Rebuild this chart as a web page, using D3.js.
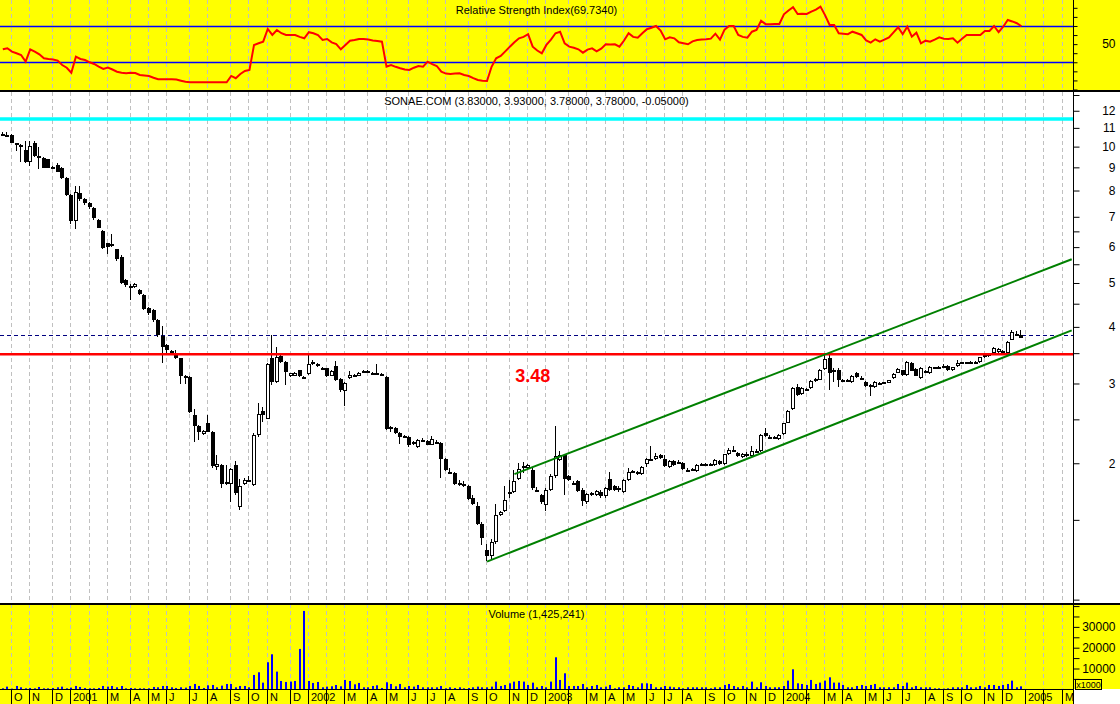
<!DOCTYPE html>
<html lang="en">
<head>
  <meta charset="UTF-8">
  <title>SONAE.COM weekly</title>
  <script src="https://d3js.org/d3.v7.min.js"></script>
  <style>
    body { margin: 0; background: #fff; }
    svg { display: block; font-family: "Liberation Sans", Arial, sans-serif; }
  </style>
</head>
<body>
<svg id="chart" width="1120" height="704"></svg>
<script>
// weekly bars, one per Friday
var firstWeek = "2000-09-22";
var lastAxisWeek = "2005-03-18";
// Fridays the market was shut: the bar belongs to the Thursday
var holidays = ["2000-12-01", "2002-11-01"];
var monthLetters = ["J", "F", "M", "A", "M", "J", "J", "A", "S", "O", "N", "D"];

// [open, high, low, close]
var candles = [
  [10.65,10.75,10.55,10.60],[10.60,10.75,10.50,10.62],[10.60,10.65,10.18,10.20],[10.17,10.20,9.80,10.09],[10.10,10.15,9.26,10.04],
  [9.83,10.31,9.20,9.24],[9.24,10.30,9.08,10.04],[10.17,10.30,9.50,9.55],[9.55,10.00,8.92,9.50],[9.45,9.50,8.95,8.99],
  [9.37,9.40,8.95,8.99],[9.00,9.05,8.97,9.00],[9.11,9.22,8.78,8.81],[8.99,9.00,8.50,8.54],[8.54,8.56,7.80,7.82],
  [7.82,7.85,6.74,6.86],[6.86,8.19,6.57,7.93],[7.89,8.19,7.60,7.65],[7.68,7.70,7.45,7.50],[7.50,7.55,7.30,7.35],
  [7.31,7.35,6.90,6.95],[6.89,6.92,6.60,6.62],[6.51,6.55,5.93,5.96],[6.12,6.13,5.79,6.01],[6.06,6.43,6.00,6.10],
  [5.93,5.95,5.60,5.64],[5.72,5.75,4.98,5.01],[5.08,5.10,4.90,4.94],[4.93,4.97,4.59,4.92],[4.90,5.00,4.88,4.97],
  [4.83,4.85,4.70,4.72],[4.70,4.72,4.35,4.37],[4.40,4.42,4.25,4.29],[4.35,4.37,4.10,4.14],[4.14,4.16,3.80,3.83],
  [3.81,4.02,3.33,3.62],[3.64,3.66,3.50,3.56],[3.53,3.55,3.48,3.50],[3.50,3.56,3.40,3.41],[3.41,3.42,2.99,3.11],
  [3.12,3.13,2.99,3.11],[3.10,3.11,2.58,2.60],[2.56,2.64,2.23,2.42],[2.42,2.43,2.25,2.35],[2.32,2.37,2.31,2.36],
  [2.45,2.56,2.34,2.35],[2.35,2.36,1.95,1.97],[1.96,2.09,1.93,1.99],[1.98,1.99,1.76,1.80],[1.81,1.98,1.79,1.82],
  [1.80,1.95,1.64,1.94],[1.98,2.02,1.70,1.72],[1.60,1.85,1.58,1.78],[1.80,1.86,1.79,1.84],[1.84,1.87,1.83,1.84],
  [1.79,2.33,1.78,2.31],[2.31,2.71,2.29,2.57],[2.61,2.66,2.47,2.55],[2.51,3.33,2.50,3.31],[3.42,3.84,2.98,3.02],
  [3.02,3.61,3.00,3.43],[3.45,3.50,3.33,3.34],[3.35,3.36,2.97,3.18],[3.11,3.17,3.10,3.16],[3.12,3.18,3.11,3.16],
  [3.21,3.22,3.10,3.11],[3.10,3.12,3.08,3.09],[3.15,3.48,3.14,3.31],[3.35,3.38,3.30,3.32],[3.31,3.33,3.27,3.28],
  [3.25,3.27,3.23,3.24],[3.24,3.25,3.10,3.12],[3.12,3.21,3.11,3.20],[3.28,3.36,3.04,3.05],[3.07,3.08,2.88,2.90],
  [2.89,3.02,2.67,3.01],[3.08,3.20,3.07,3.13],[3.12,3.15,3.11,3.13],[3.12,3.18,3.11,3.17],[3.19,3.22,3.17,3.20],
  [3.19,3.21,3.17,3.19],[3.17,3.18,3.15,3.16],[3.16,3.32,3.13,3.14],[3.15,3.16,3.11,3.12],[3.10,3.11,2.37,2.38],
  [2.41,2.42,2.35,2.39],[2.39,2.40,2.32,2.33],[2.33,2.34,2.21,2.29],[2.30,2.31,2.27,2.28],[2.29,2.30,2.17,2.19],
  [2.23,2.24,2.20,2.21],[2.17,2.26,2.16,2.25],[2.24,2.27,2.23,2.25],[2.24,2.25,2.19,2.20],[2.20,2.30,2.19,2.26],
  [2.23,2.25,2.22,2.23],[2.22,2.23,1.86,2.04],[2.04,2.05,1.92,1.93],[1.91,1.95,1.89,1.90],[1.90,1.91,1.79,1.80],
  [1.81,1.84,1.78,1.80],[1.80,1.83,1.77,1.79],[1.78,1.79,1.66,1.67],[1.68,1.70,1.62,1.63],[1.61,1.64,1.46,1.47],
  [1.47,1.48,1.32,1.37],[1.29,1.33,1.22,1.25],[1.25,1.36,1.23,1.34],[1.34,1.63,1.33,1.54],[1.54,1.57,1.53,1.56],
  [1.57,1.78,1.56,1.66],[1.73,1.84,1.68,1.73],[1.73,1.93,1.72,1.83],[1.85,2.00,1.84,1.94],[1.97,2.01,1.90,1.95],
  [1.95,1.99,1.94,1.98],[1.93,1.96,1.75,1.76],[1.75,1.77,1.73,1.74],[1.70,1.71,1.63,1.64],[1.62,1.76,1.57,1.75],
  [1.75,1.89,1.74,1.87],[1.87,2.42,1.86,2.08],[2.03,2.13,2.02,2.09],[2.09,2.10,1.70,1.85],[1.87,1.88,1.83,1.84],
  [1.81,1.83,1.79,1.80],[1.83,1.84,1.73,1.74],[1.75,1.76,1.61,1.65],[1.64,1.72,1.63,1.71],[1.70,1.73,1.69,1.72],
  [1.70,1.75,1.69,1.74],[1.73,1.75,1.68,1.69],[1.69,1.77,1.68,1.76],[1.85,1.91,1.74,1.75],[1.78,1.79,1.74,1.75],
  [1.75,1.78,1.73,1.76],[1.73,1.85,1.72,1.84],[1.84,1.95,1.83,1.91],[1.91,1.93,1.90,1.92],[1.91,1.92,1.88,1.89],
  [1.89,1.97,1.88,1.96],[1.99,2.05,1.96,2.04],[2.04,2.18,2.02,2.04],[2.04,2.11,2.03,2.08],[2.09,2.10,2.04,2.05],
  [2.04,2.09,1.96,1.97],[1.96,2.03,1.95,2.02],[2.02,2.03,1.97,1.98],[2.01,2.03,2.00,2.01],[2.00,2.01,1.93,1.94],
  [1.93,1.95,1.92,1.93],[1.93,1.95,1.92,1.94],[1.92,1.99,1.91,1.98],[1.99,2.00,1.98,1.99],[1.99,2.00,1.98,1.99],
  [1.99,2.00,1.98,1.99],[1.98,2.04,1.97,2.03],[2.02,2.03,1.98,1.99],[1.99,2.10,1.98,2.10],[2.10,2.16,2.09,2.14],
  [2.14,2.18,2.12,2.13],[2.11,2.12,2.06,2.07],[2.06,2.11,2.05,2.10],[2.10,2.12,2.06,2.07],[2.07,2.18,2.06,2.13],
  [2.13,2.15,2.12,2.13],[2.13,2.32,2.12,2.31],[2.33,2.39,2.29,2.30],[2.29,2.31,2.28,2.29],[2.28,2.30,2.27,2.29],
  [2.26,2.32,2.25,2.31],[2.32,2.46,2.31,2.45],[2.46,2.62,2.45,2.61],[2.63,2.94,2.62,2.93],[2.95,2.99,2.82,2.83],
  [2.84,2.94,2.83,2.93],[2.91,2.93,2.89,2.91],[2.93,3.05,2.92,3.04],[3.07,3.09,3.03,3.04],[3.06,3.23,3.05,3.22],
  [3.23,3.48,3.22,3.40],[3.41,3.47,2.90,3.16],[3.22,3.25,3.03,3.19],[3.22,3.24,2.94,3.06],[3.05,3.07,3.04,3.05],
  [3.05,3.07,3.04,3.06],[3.02,3.13,3.01,3.12],[3.16,3.18,3.09,3.10],[3.09,3.11,3.08,3.09],[3.03,3.04,2.95,2.96],
  [2.97,2.99,2.82,2.97],[2.94,3.04,2.93,3.03],[3.00,3.02,2.99,3.01],[3.01,3.03,3.00,3.02],[3.01,3.06,3.00,3.05],
  [3.08,3.16,3.07,3.15],[3.17,3.24,3.16,3.23],[3.21,3.22,3.12,3.13],[3.13,3.36,3.12,3.35],[3.33,3.34,3.19,3.20],
  [3.23,3.24,3.11,3.12],[3.08,3.26,3.07,3.25],[3.17,3.21,3.16,3.20],[3.16,3.28,3.15,3.27],[3.25,3.27,3.24,3.26],
  [3.24,3.28,3.23,3.27],[3.28,3.31,3.27,3.28],[3.28,3.29,3.20,3.21],[3.21,3.27,3.20,3.26],[3.28,3.38,3.27,3.33],
  [3.33,3.35,3.32,3.34],[3.34,3.35,3.33,3.34],[3.34,3.36,3.33,3.34],[3.33,3.36,3.32,3.35],[3.34,3.44,3.33,3.43],
  [3.43,3.48,3.42,3.47],[3.46,3.50,3.44,3.49],[3.50,3.61,3.49,3.59],[3.52,3.60,3.50,3.58],[3.52,3.56,3.49,3.54],
  [3.50,3.72,3.49,3.70],[3.75,3.93,3.74,3.89],[3.86,3.92,3.82,3.83],[3.83,3.93,3.78,3.78]
];

// weekly volume, thousands of shares
var volumes = [
  480,1280,320,1600,960,480,640,480,1120,480,
  480,640,960,1280,480,800,1600,1120,640,480,
  480,640,1600,1280,1600,960,1600,480,640,480,
  480,480,480,1120,960,1600,1600,960,640,960,
  800,1600,2560,1600,640,1920,2080,960,1760,2560,
  2560,960,1600,1600,960,6900,8180,3200,13000,16830,
  8500,4000,3530,3690,4000,19400,37670,4000,3050,3530,
  960,1280,1440,2080,1440,4490,4000,2400,3050,960,
  960,1600,1920,640,3370,2560,1440,2560,960,1600,
  1280,2080,960,960,960,960,1600,480,960,640,
  960,480,640,960,1280,960,960,1280,3690,1600,
  2080,2890,3690,4000,3690,2080,3200,960,1600,960,
  3690,15390,4490,7690,1600,1600,1600,2560,960,1600,
  2080,960,1280,2080,480,960,960,2080,1600,960,
  2890,2890,2560,960,960,1600,1280,960,960,480,
  960,960,960,960,960,480,960,960,2080,2560,
  1600,960,1600,960,3690,960,3370,1600,960,960,
  960,1600,4170,9620,2890,2560,2080,4490,2560,3210,
  4170,5770,3210,3210,2080,960,960,1600,2080,1600,
  2080,2560,960,960,960,960,2560,1600,3210,960,
  1600,960,960,960,480,480,320,480,960,960,
  960,2080,960,960,1600,960,2080,2080,1600,2080,
  2560,4170,960,1425.241
];

var rsiValues = [
  44.3,45.4,41.7,39.9,38.0,30.7,44.3,41.7,38.8,34.4,
  33.6,33.0,31.8,27.0,24.0,18.5,36.2,33.6,32.5,30.0,
  28.1,25.2,22.6,24.1,22.0,19.6,18.5,17.9,18.5,18.2,
  16.0,15.5,14.9,13.0,11.3,11.3,11.3,11.3,11.0,9.7,
  8.5,8.0,8.0,8.0,8.0,8.0,8.0,8.0,8.0,8.0,
  14.9,12.4,17.1,20.5,21.5,49.1,50.9,52.7,66.7,60.1,
  65.6,62.0,60.1,60.1,60.1,58.0,56.4,63.1,62.0,60.0,
  54.6,55.7,52.0,50.0,44.3,49.0,53.8,54.5,55.7,55.7,
  55.0,54.0,53.5,52.7,25.2,27.0,25.0,23.4,22.0,21.5,
  24.0,25.9,25.2,30.7,28.0,25.9,19.6,17.5,17.1,17.5,
  17.9,16.0,14.9,12.5,10.5,9.6,9.4,25.0,34.4,36.9,
  42.0,47.2,52.0,56.4,58.0,60.9,47.2,43.0,39.9,49.1,
  55.0,62.0,63.7,50.9,47.2,46.0,44.3,40.6,44.0,45.4,
  42.0,45.0,49.8,49.5,49.8,47.2,54.0,62.0,58.0,57.1,
  62.0,66.4,68.0,70.0,65.0,55.3,57.5,56.4,52.0,50.9,
  49.8,53.0,54.6,55.0,55.3,56.0,61.5,55.0,66.0,70.0,
  70.0,60.1,58.0,57.1,63.7,65.6,75.8,72.0,71.9,72.2,
  72.2,82.9,87.0,90.6,83.2,83.5,83.2,85.8,88.0,91.3,
  82.0,71.1,71.1,62.0,61.5,61.0,63.7,62.0,60.1,54.0,
  51.6,55.3,52.7,55.0,57.5,63.0,68.6,60.9,69.2,58.2,
  62.6,50.9,53.8,52.7,55.0,57.5,56.0,55.7,56.4,51.6,
  56.0,60.1,60.1,60.1,60.1,64.5,64.5,70.0,63.1,69.2,
  76.6,75.0,73.0,69.734
];

// drawn studies
var highLevel = 11.5;
var supportLevel = 3.48;
var lastPrice = 3.83;
var channelLower = [["2002-10-04", 1.213], ["2005-03-18", 3.93]];
var channelUpper = [["2002-11-15", 1.892], ["2005-03-18", 5.64]];
var supportLabelAt = ["2002-12-13", 3.03];
var rsiBands = [30, 70];

// axis ticks
var priceTicks = [1, 1.5, 2, 2.5, 3, 3.5, 4, 4.5, 5, 5.5, 6, 6.5, 7, 8, 9, 10, 11, 12, 13];
var priceLabels = [2, 3, 4, 5, 6, 7, 8, 9, 10, 11, 12];
var volumeTicks = [5000, 10000, 15000, 20000, 25000, 30000, 35000, 40000];
var volumeLabels = [10000, 20000, 30000];
var rsiTicks = [0, 10, 20, 30, 40, 50, 60, 70, 80, 90];
var rsiLabels = [50];

// ---- layout ----
var W = 1120, H = 704, axisX = 1073;
var rsiBottom = 91, mainTop = 92, mainBottom = 603, volTop = 604, volBottom = 689;

var parse = d3.utcParse("%Y-%m-%d"), fmt = d3.utcFormat("%Y-%m-%d");
var weeks = d3.utcFriday.range(parse(firstWeek), d3.utcDay.offset(parse(lastAxisWeek), 1));

var bars = candles.map(function(c, i) {
  return { date: weeks[i], open: c[0], high: c[1], low: c[2], close: c[3],
           volume: volumes[i], rsi: rsiValues[i] };
});

var x = d3.scaleUtc().domain([weeks[0], weeks[weeks.length - 1]]).range([2.8, 1071.7]);
var y = d3.scaleLog().domain([0.983, 13.2]).range([mainBottom, mainTop]);
var yRsi = d3.scaleLinear().domain([0, 100]).range([89.5, -1.25]);
var yVol = d3.scaleLinear().domain([0, 41000]).range([689.3, volTop]);

function cx(d) { return Math.round(x(d)); }

// month ticks sit on the first bar of each month
function tradeDay(d) { return holidays.indexOf(fmt(d)) >= 0 ? d3.utcDay.offset(d, -1) : d; }
var monthTicks = [];
weeks.forEach(function(d, i) {
  if (i === 0) return;
  var m = tradeDay(d).getUTCMonth();
  if (m !== tradeDay(weeks[i - 1]).getUTCMonth()) {
    monthTicks.push({ date: d, month: m, year: tradeDay(d).getUTCFullYear() });
  }
});
var lastEnd = -Infinity;
monthTicks.forEach(function(t) {
  var label = t.month === 0 ? String(t.year) : monthLetters[t.month];
  var lx = cx(t.date) + 2;
  t.label = lx > lastEnd ? label : null;
  if (t.label) lastEnd = lx + label.length * 6.2;
});

var svg = d3.select("#chart");

svg.append("defs").append("clipPath").attr("id", "mainClip")
  .append("rect").attr("x", 0).attr("y", mainTop).attr("width", axisX).attr("height", mainBottom - mainTop);

// backgrounds
svg.append("rect").attr("width", W).attr("height", H).attr("fill", "#fff");
svg.append("rect").attr("width", W).attr("height", rsiBottom).attr("fill", "#ffff00");
svg.append("rect").attr("y", volTop).attr("width", W).attr("height", volBottom - volTop).attr("fill", "#ffff00");
svg.append("rect").attr("y", volBottom).attr("width", axisX).attr("height", H - volBottom).attr("fill", "#ffff00");

// dashed month grid in each pane
[[0, rsiBottom], [mainTop, mainBottom], [volTop, volBottom]].forEach(function(b) {
  svg.append("g").selectAll("line").data(monthTicks).join("line")
    .attr("x1", function(t) { return cx(t.date) - 0.5; })
    .attr("x2", function(t) { return cx(t.date) - 0.5; })
    .attr("y1", b[0]).attr("y2", b[1])
    .attr("stroke", "#c0c0c0").attr("stroke-dasharray", "4,3");
});

// ---- RSI pane ----
svg.append("g").selectAll("line").data(rsiBands).join("line")
  .attr("x1", 0).attr("x2", axisX)
  .attr("y1", function(d) { return Math.round(yRsi(d)) + 0.5; })
  .attr("y2", function(d) { return Math.round(yRsi(d)) + 0.5; })
  .attr("stroke", "#0000ff").attr("stroke-width", 1.3);

svg.append("path").datum(bars)
  .attr("d", d3.line().x(function(d) { return x(d.date); }).y(function(d) { return yRsi(d.rsi); }))
  .attr("fill", "none").attr("stroke", "#ff0000").attr("stroke-width", 2);

svg.append("text").attr("x", axisX / 2).attr("y", 14).attr("text-anchor", "middle")
  .attr("font-size", 11)
  .text("Relative Strength Index(" + rsiValues[rsiValues.length - 1].toFixed(4) + ")");

// ---- price pane ----
var main = svg.append("g").attr("clip-path", "url(#mainClip)");

main.append("line").attr("x1", 0).attr("x2", axisX)
  .attr("y1", y(highLevel)).attr("y2", y(highLevel))
  .attr("stroke", "#00ffff").attr("stroke-width", 3.5);

main.append("line").attr("x1", 0).attr("x2", axisX)
  .attr("y1", Math.round(y(lastPrice)) + 0.5).attr("y2", Math.round(y(lastPrice)) + 0.5)
  .attr("stroke", "#000080").attr("stroke-dasharray", "4,3");

main.selectAll("line.wick").data(bars).join("line").attr("class", "wick")
  .attr("x1", function(d) { return cx(d.date) - 0.5; })
  .attr("x2", function(d) { return cx(d.date) - 0.5; })
  .attr("y1", function(d) { return Math.round(y(d.high)); })
  .attr("y2", function(d) { return Math.round(y(d.low)); })
  .attr("stroke", "#000");

main.selectAll("rect.body").data(bars).join("rect").attr("class", "body")
  .attr("x", function(d) { return cx(d.date) - 1.5; })
  .attr("y", function(d) { return Math.round(y(Math.max(d.open, d.close))) + 0.5; })
  .attr("width", 3)
  .attr("height", function(d) {
    return Math.max(1, Math.round(y(Math.min(d.open, d.close))) - Math.round(y(Math.max(d.open, d.close))) - 1);
  })
  .attr("fill", function(d) { return d.close >= d.open ? "#fff" : "#000"; })
  .attr("stroke", "#000");

main.append("line").attr("x1", 0).attr("x2", axisX)
  .attr("y1", y(supportLevel)).attr("y2", y(supportLevel))
  .attr("stroke", "#ff0000").attr("stroke-width", 2.5);

[channelLower, channelUpper].forEach(function(c) {
  main.append("line")
    .attr("x1", x(parse(c[0][0]))).attr("y1", y(c[0][1]))
    .attr("x2", x(parse(c[1][0]))).attr("y2", y(c[1][1]))
    .attr("stroke", "#008000").attr("stroke-width", 2);
});

main.append("text")
  .attr("x", x(parse(supportLabelAt[0]))).attr("y", y(supportLabelAt[1]))
  .attr("text-anchor", "middle").attr("font-size", 18).attr("font-weight", "bold")
  .attr("fill", "#ff0000").text(supportLevel.toFixed(2));

var last = bars[bars.length - 1], prev = bars[bars.length - 2];
var f5 = function(v) { return d3.format(".5f")(v).replace("\u2212", "-"); };
svg.append("text").attr("x", axisX / 2).attr("y", 105).attr("text-anchor", "middle")
  .attr("font-size", 11)
  .text("SONAE.COM (" + [last.open, last.high, last.low, last.close, last.close - prev.close].map(f5).join(", ") + ")");

// ---- volume pane ----
svg.append("g").selectAll("rect").data(bars).join("rect")
  .attr("x", function(d) { return cx(d.date) - 1; })
  .attr("y", function(d) { return yVol(d.volume); })
  .attr("width", 2)
  .attr("height", function(d) { return yVol(0) - yVol(d.volume); })
  .attr("fill", "#0000ff");

svg.append("text").attr("x", axisX / 2).attr("y", 618).attr("text-anchor", "middle")
  .attr("font-size", 11)
  .text("Volume (" + d3.format(",")(Math.round(last.volume * 1000)) + ")");

// ---- frame and right axes ----
svg.append("line").attr("x1", 0).attr("x2", W).attr("y1", 91).attr("y2", 91).attr("stroke", "#000").attr("stroke-width", 2);
svg.append("line").attr("x1", 0).attr("x2", W).attr("y1", 604).attr("y2", 604).attr("stroke", "#000").attr("stroke-width", 2);
svg.append("line").attr("x1", 0).attr("x2", axisX).attr("y1", volBottom + 0.5).attr("y2", volBottom + 0.5).attr("stroke", "#000");
svg.append("line").attr("x1", axisX + 0.5).attr("x2", axisX + 0.5).attr("y1", 0).attr("y2", H).attr("stroke", "#000");

function rightAxis(scale, ticks, labels, size) {
  return function(g) {
    g.attr("transform", "translate(" + (axisX + 0.5) + ",0)")
      .call(d3.axisRight(scale).tickValues(ticks).tickSize(size).tickSizeOuter(0)
        .tickFormat(function(d) { return labels.indexOf(d) >= 0 ? d : ""; }));
    g.select(".domain").remove();
    g.selectAll("text").attr("x", 42).attr("text-anchor", "end")
      .attr("font-size", 12).attr("font-family", "\"Liberation Sans\", Arial, sans-serif").attr("fill", "#000");
  };
}
svg.append("g").call(rightAxis(yRsi, rsiTicks, rsiLabels, 4));
svg.append("g").call(rightAxis(y, priceTicks, priceLabels, 6));
svg.append("g").call(rightAxis(yVol, volumeTicks, volumeLabels, 6));

// x1000 box
svg.append("rect").attr("x", axisX + 2.5).attr("y", 679.5).attr("width", 26).attr("height", 10)
  .attr("fill", "none").attr("stroke", "#000");
svg.append("text").attr("x", axisX + 15.5).attr("y", 688).attr("text-anchor", "middle")
  .attr("font-size", 9).text("x1000");

// ---- date strip ----
var dates = svg.append("g");
dates.selectAll("line").data(monthTicks).join("line")
  .attr("x1", function(t) { return cx(t.date) - 0.5; })
  .attr("x2", function(t) { return cx(t.date) - 0.5; })
  .attr("y1", volBottom).attr("y2", H)
  .attr("stroke", "#000");
dates.selectAll("text").data(monthTicks.filter(function(t) { return t.label; })).join("text")
  .attr("x", function(t) { return cx(t.date) + 2; })
  .attr("y", 701)
  .attr("font-size", 11)
  .text(function(t) { return t.label; });
</script>
</body>
</html>
